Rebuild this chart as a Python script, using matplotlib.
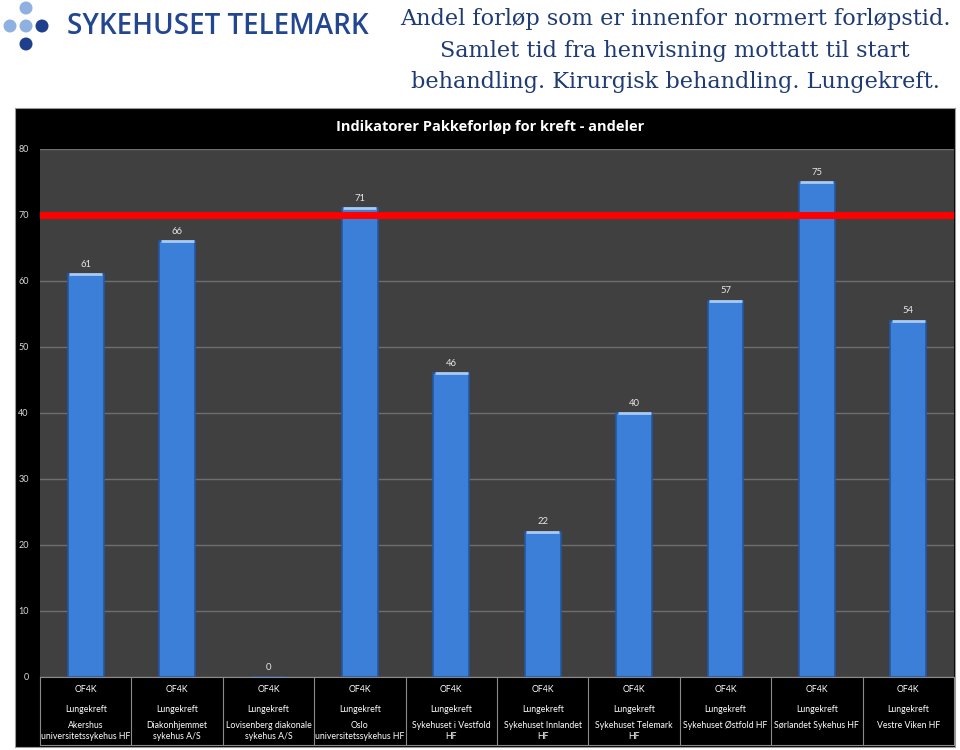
import matplotlib
matplotlib.use("Agg")
import matplotlib.pyplot as plt
from matplotlib.patches import Rectangle, Ellipse
import numpy as np

# ---------------------------------------------------------------- data
hospitals = [
    "Akershus\nuniversitetssykehus HF",
    "Diakonhjemmet\nsykehus A/S",
    "Lovisenberg diakonale\nsykehus A/S",
    "Oslo\nuniversitetssykehus HF",
    "Sykehuset i Vestfold\nHF",
    "Sykehuset Innlandet\nHF",
    "Sykehuset Telemark\nHF",
    "Sykehuset Østfold HF",
    "Sørlandet Sykehus HF",
    "Vestre Viken HF",
]
pathway = "OF4K"
cancer = "Lungekreft"
shares = [61, 66, 0, 71, 46, 22, 40, 57, 75, 54]
target = 70
yticks = [0, 10, 20, 30, 40, 50, 60, 70, 80]
title_lines = [
    "Andel forløp som er innenfor normert forløpstid.",
    "Samlet tid fra henvisning mottatt til start",
    "behandling. Kirurgisk behandling. Lungekreft.",
]

BAR = "#3b7fd8"
BAR_EDGE = "#25579f"
BAR_TOP = "#a9cbf2"
PANEL = "#404040"
GRID = "#6e6e6e"
NAVY = "#1f3b73"

W, H = 960, 750
fig = plt.figure(figsize=(W / 100, H / 100), dpi=100)
fig.patch.set_facecolor("white")

def fx(px):
    return px / W

def fy(py):
    return 1 - py / H

# ---------------------------------------------------------------- header
logo_dots = [(26, 8, "#8fb1e2"), (10, 26, "#8fb1e2"), (26, 26, "#8fb1e2"),
             (42, 26, "#1f3f8c"), (26, 44, "#1f3f8c")]
for cx, cy, c in logo_dots:
    fig.patches.append(Ellipse((fx(cx), fy(cy)), 13 / W, 13 / H, transform=fig.transFigure,
                               facecolor=c, edgecolor="none"))
fig.text(fx(67), fy(26), "SYKEHUSET TELEMARK", fontsize=20, fontweight="semibold",
         family=["Open Sans", "DejaVu Sans"], color="#22468f", ha="left", va="center")

for i, line in enumerate(title_lines):
    fig.text(fx(675), fy(19 + 31.5 * i), line, fontsize=16.1,
             family=["DejaVu Serif"], color=NAVY, ha="center", va="center")

# ---------------------------------------------------------------- chart box
fig.patches.append(Rectangle((fx(15), fy(747)), fx(955) - fx(15), fy(108) - fy(747),
                             transform=fig.transFigure, facecolor="black",
                             edgecolor="#9a9a9a", lw=0.8, zorder=-1))
fig.text(fx(490), fy(127), "Indikatorer Pakkeforløp for kreft - andeler",
         fontsize=10.5, fontweight="bold", family=["Open Sans", "DejaVu Sans"],
         color="white", ha="center", va="center")

ax = fig.add_axes([fx(40), fy(677), fx(954) - fx(40), fy(149) - fy(677)])
ax.set_facecolor(PANEL)
x = np.arange(len(shares))
ax.set_xlim(-0.5, len(shares) - 0.5)
ax.set_ylim(0, 80)
ax.set_yticks(yticks)
ax.set_yticklabels([str(t) for t in yticks], fontsize=6.5, color="#d8d8d8",
                   family=["Lato", "DejaVu Sans"])
ax.tick_params(axis="y", length=0, pad=8)
ax.set_xticks([])
for s in ax.spines.values():
    s.set_visible(False)
ax.grid(axis="y", color=GRID, lw=1)
ax.set_axisbelow(True)

ax.bar(x, shares, width=0.39, color=BAR, edgecolor=BAR_EDGE, lw=1.2, zorder=2)
for xi, v in zip(x, shares):
    if v > 0:
        ax.hlines(v, xi - 0.18, xi + 0.18, color=BAR_TOP, lw=2, zorder=3)
    ax.text(xi, v + 1.5, str(v), ha="center", va="center", fontsize=6.8,
            color="#e6e6e6", family=["Lato", "DejaVu Sans"], zorder=4)

ax.axhline(target, color="#ff0000", lw=5, zorder=5)

# category table beneath the panel
tr = ax.get_xaxis_transform()
bottom = -(745 - 677) / (677 - 149)
for b in np.arange(-0.5, len(shares), 1.0):
    ax.plot([b, b], [0, bottom], transform=tr, color="#8a8a8a", lw=0.8, clip_on=False)
ax.plot([-0.5, len(shares) - 0.5], [bottom, bottom], transform=tr, color="#8a8a8a",
        lw=0.8, clip_on=False)
ax.plot([-0.5, len(shares) - 0.5], [0, 0], transform=tr, color="#8a8a8a",
        lw=0.8, clip_on=False)
lab_kw = dict(transform=tr, ha="center", fontsize=6.3, color="white",
              family=["Lato", "DejaVu Sans"], clip_on=False)
for xi, name in zip(x, hospitals):
    ax.text(xi, -13 / 528, pathway, va="center", **lab_kw)
    ax.text(xi, -32 / 528, cancer, va="center", **lab_kw)
    ax.text(xi, -44 / 528, name, va="top", linespacing=1.25, **lab_kw)

fig.savefig("out.png", dpi=100, facecolor="white")
